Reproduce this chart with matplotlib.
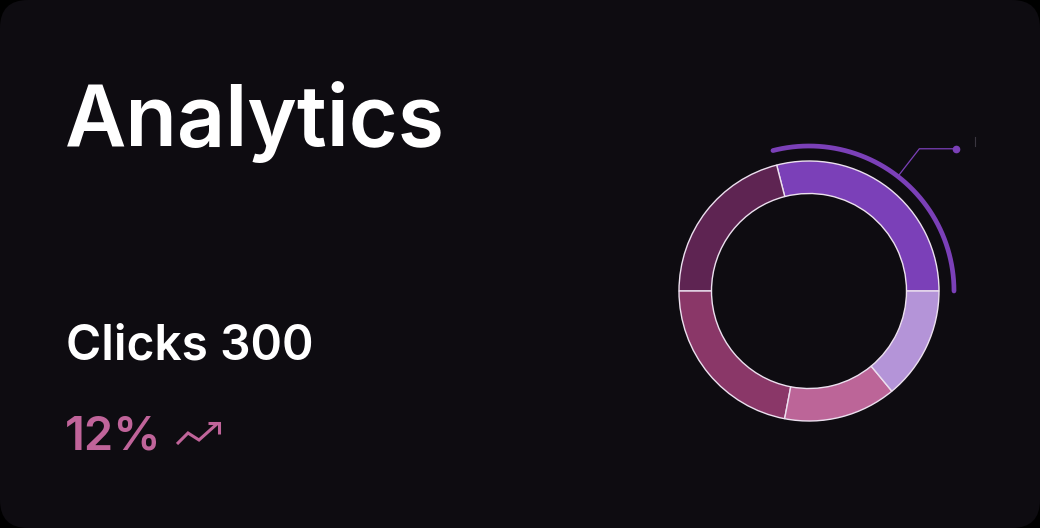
import numpy as np
import matplotlib.pyplot as plt
from matplotlib.patches import FancyBboxPatch

# donut data (share of clicks per source)
labels = ['A', 'B', 'C', 'D', 'E']
values = [29, 21, 22, 14, 14]
colors = ['#7b40b8', '#5e2452', '#8a3768', '#bc6598', '#b494d8']
title = 'Analytics'
metric = 'Clicks 300'
change = '12%'

W, H = 1040, 528
fig = plt.figure(figsize=(W/100, H/100), dpi=100, facecolor='#000000')
ax = fig.add_axes([0, 0, 1, 1])
ax.set_facecolor('#000000')

# card
card = FancyBboxPatch((0, 0), W, H, boxstyle='round,pad=0,rounding_size=28',
                      fc='#0e0c11', ec='none', zorder=0)
ax.add_patch(card)

cx, cy = 809, H - 291
r_out, ring = 130, 32.5
ax.pie(values, colors=colors, radius=r_out, center=(cx, cy), startangle=0,
       counterclock=True,
       wedgeprops=dict(width=ring, edgecolor='#ece0ef', linewidth=1.0))

# highlight arc over the first (largest) slice
a0, a1 = 0, values[0] / sum(values) * 360
th = np.radians(np.linspace(a0, a1, 200))
r_arc = 145
ax.plot(cx + r_arc*np.cos(th), cy + r_arc*np.sin(th), color='#7b40b8',
        lw=3.4, solid_capstyle='round', zorder=3)

# leader line from the arc midpoint
am = np.radians((a0 + a1) / 2)
x1, y1 = cx + 146*np.cos(am), cy + 146*np.sin(am)
x2, y2 = cx + 180*np.cos(am), cy + 180*np.sin(am)
ax.plot([x1, x2, x2 + 37], [y1, y2, y2], color='#7b40b8', lw=0.9, zorder=3)
ax.plot([x2 + 37], [y2], 'o', color='#7b40b8', ms=4.5, zorder=3)
ax.plot([975, 975], [H-137, H-146], color='#3a3640', lw=0.8)

# texts
ax.text(65, H - 146, title, color='white', fontsize=60.7, fontweight='semibold',
        family='Inter', va='baseline', ha='left')
ax.text(66, H - 360, metric, color='white', fontsize=34.5, fontweight='semibold',
        family='Inter', va='baseline', ha='left')
ax.text(65, H - 450, change, color='#c0649a', fontsize=34, fontweight='semibold',
        family='Inter', va='baseline', ha='left')

# trending-up icon
ax.plot([177, 188, 199, 218], [H-444, H-433, H-440, H-423], color='#c0649a',
        lw=2.2, solid_joinstyle='miter', solid_capstyle='butt')
ax.plot([208, 219, 219], [H-423, H-423, H-434], color='#c0649a', lw=2.2,
        solid_joinstyle='miter', solid_capstyle='butt')

ax.set_xlim(0, W)
ax.set_ylim(0, H)
ax.set_aspect('auto')
ax.axis('off')

fig.savefig('out.png', dpi=100, facecolor=fig.get_facecolor())
